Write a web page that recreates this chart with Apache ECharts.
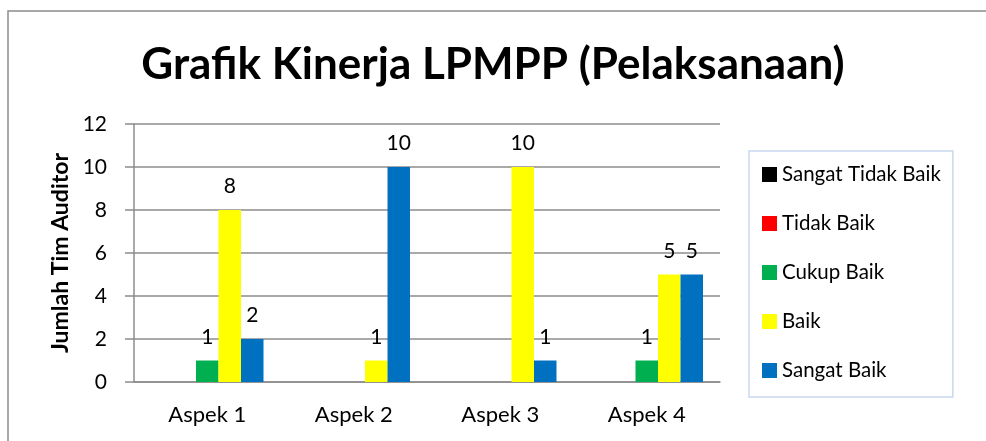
<!DOCTYPE html>
<html>
<head>
<meta charset="utf-8">
<script src="https://cdn.jsdelivr.net/npm/echarts@6/dist/echarts.min.js"></script>
<style>
    html, body { margin: 0; padding: 0; background: #fff; }
    #chartBar { width: 986px; height: 441px; }
</style>
</head>
<body>
<div id="chartBar"></div>
<script>
    var categories = ['Aspek 1', 'Aspek 2', 'Aspek 3', 'Aspek 4'];
    var seriesNames = ['Sangat Tidak Baik', 'Tidak Baik', 'Cukup Baik', 'Baik', 'Sangat Baik'];
    var sangatTidakBaik = [0, 0, 0, 0];
    var tidakBaik = [0, 0, 0, 0];
    var cukupBaik = [1, 0, 0, 1];
    var baik = [8, 1, 10, 5];
    var sangatBaik = [2, 10, 1, 5];
    var yTicks = { min: 0, max: 12, interval: 2 };

    var colors = ['#000000', '#ff0000', '#00b050', '#ffff00', '#0070c0'];
    var values = [sangatTidakBaik, tidakBaik, cukupBaik, baik, sangatBaik];
    var font = 'Lato, "Open Sans", sans-serif';

    var chartBar = echarts.init(document.getElementById('chartBar'));
    var series = [];
    for (var i = 0; i < seriesNames.length; i++) {
        series.push({
            name: seriesNames[i],
            type: 'bar',
            barWidth: 22.5,
            barGap: '0%',
            itemStyle: { color: colors[i] },
            label: {
                show: true,
                position: 'top',
                distance: 13,
                fontSize: 21,
                fontFamily: font,
                color: '#000',
                // nilai 0 tidak diberi label
                formatter: function (p) { return p.value ? p.value : ''; }
            },
            data: values[i]
        });
    }

    var option = {
        animation: false,
        color: colors,
        textStyle: { fontFamily: font },
        title: {
            text: 'Grafik Kinerja LPMPP (Pelaksanaan)',
            left: 'center',
            top: 38,
            textStyle: { fontSize: 44, fontWeight: 'bold', color: '#000', fontFamily: font }
        },
        graphic: [{
            type: 'rect',
            shape: { x: 8, y: 11, width: 1000, height: 500 },
            style: { fill: 'none', stroke: '#8c8c8c', lineWidth: 1.5 },
            silent: true
        }],
        legend: {
            orient: 'vertical',
            left: 749,
            top: 151,
            padding: [13, 12, 16, 13],
            itemWidth: 15,
            itemHeight: 15,
            itemGap: 28,
            borderColor: '#c6d9f1',
            borderWidth: 1.5,
            icon: 'rect',
            textStyle: { fontSize: 20.5, lineHeight: 20, color: '#000', fontFamily: font },
            data: seriesNames
        },
        grid: {
            left: 134,
            right: 266,
            top: 124,
            bottom: 59
        },
        xAxis: {
            type: 'category',
            data: categories,
            axisLine: { show: true, lineStyle: { color: '#8c8c8c', width: 1.5 } },
            axisTick: { show: false },
            axisLabel: { fontSize: 22, color: '#000', margin: 22, fontFamily: font }
        },
        yAxis: {
            type: 'value',
            min: yTicks.min,
            max: yTicks.max,
            interval: yTicks.interval,
            name: 'Jumlah Tim Auditor',
            nameLocation: 'middle',
            nameGap: 62,
            nameTextStyle: { fontSize: 23, fontWeight: 'bold', color: '#000', fontFamily: font },
            axisLine: { show: true, lineStyle: { color: '#8c8c8c', width: 1.5 } },
            axisTick: { show: true, length: 9, lineStyle: { color: '#8c8c8c', width: 1.5 } },
            axisLabel: { fontSize: 21, color: '#000', margin: 27, fontFamily: font },
            splitLine: { show: true, lineStyle: { color: '#8c8c8c', width: 1.5 } }
        },
        series: series
    };
    chartBar.setOption(option);
</script>
</body>
</html>
